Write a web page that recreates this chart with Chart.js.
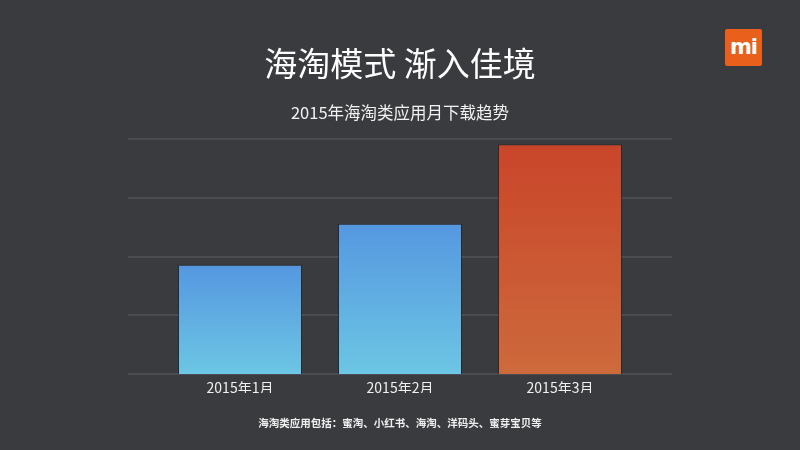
<!DOCTYPE html>
<html><head><meta charset="utf-8">
<script src="https://cdn.jsdelivr.net/npm/chart.js@4/dist/chart.umd.min.js"></script>
<style>
html,body{margin:0;padding:0;background:#3a3b3f;}
#wrap{position:relative;width:800px;height:450px;overflow:hidden;background:#3a3b3f;font-family:"Noto Sans CJK SC","Noto Sans",sans-serif;}
canvas{position:absolute;left:0;top:0;}
.t{position:absolute;left:0;width:800px;text-align:center;color:#fff;white-space:nowrap;}
#title{top:40px;font-size:33px;line-height:44px;font-weight:400;}
#sub{top:100px;font-size:16.5px;line-height:24px;color:#f2f2f2;}
#foot{top:415px;font-size:10.5px;line-height:16px;font-weight:700;color:#eeeeee;}
#logo{position:absolute;left:725px;top:29px;width:37px;height:37px;background:#e8601c;border-radius:2px;color:#fff;font-family:"DejaVu Sans",sans-serif;font-weight:700;font-size:21px;line-height:37px;text-align:center;letter-spacing:-1px;}
</style></head>
<body><div id="wrap">
<canvas id="c" width="800" height="450"></canvas>
<div id="title" class="t">海淘模式 渐入佳境</div>
<div id="sub" class="t">2015年海淘类应用月下载趋势</div>
<div id="foot" class="t">海淘类应用包括：蜜淘、小红书、海淘、洋码头、蜜芽宝贝等</div>
<div id="logo">mi</div>
</div>
<script>
const categories = ['2015年1月', '2015年2月', '2015年3月'];
const downloads = [1.86, 2.56, 3.91];
const yMax = 4;
const yStep = 1;

const gradTop = ['#5597e0', '#5597e0', '#c9452a'];
const gradBottom = ['#6cc6e4', '#6cc6e4', '#cd6a3c'];

function barColor(ctx) {
  const chart = ctx.chart;
  const ys = chart.scales.y;
  if (!ys || ctx.type !== 'data') return gradTop[ctx.dataIndex];
  const v = ctx.raw;
  const top = ys.getPixelForValue(v);
  const bottom = ys.getPixelForValue(0);
  if (!isFinite(top) || !isFinite(bottom) || top === bottom) return gradTop[ctx.dataIndex];
  const g = chart.ctx.createLinearGradient(0, top, 0, bottom);
  g.addColorStop(0, gradTop[ctx.dataIndex]);
  g.addColorStop(1, gradBottom[ctx.dataIndex]);
  return g;
}

const wideGrid = {
  id: 'wideGrid',
  beforeDatasetsDraw(chart) {
    const ys = chart.scales.y;
    const c = chart.ctx;
    c.save();
    c.strokeStyle = '#4b4c51';
    c.lineWidth = 2;
    ys.ticks.forEach(t => {
      const y = Math.round(ys.getPixelForValue(t.value));
      c.beginPath();
      c.moveTo(128, y);
      c.lineTo(672, y);
      c.stroke();
    });
    c.restore();
  }
};

new Chart(document.getElementById('c'), {
  type: 'bar',
  data: {
    labels: categories,
    datasets: [{
      data: downloads,
      backgroundColor: barColor,
      borderColor: 'rgba(30,30,30,0.6)',
      borderWidth: 1,
      categoryPercentage: 1,
      barPercentage: 0.775
    }]
  },
  options: {
    responsive: false,
    animation: false,
    layout: { padding: { left: 160, right: 160, top: 139, bottom: 57 } },
    plugins: { legend: { display: false }, title: { display: false }, tooltip: { enabled: false } },
    scales: {
      x: {
        grid: { display: false },
        border: { display: false },
        ticks: { color: '#f0f0f0', font: { size: 14, family: '"Noto Sans CJK SC", "Liberation Sans", sans-serif' }, padding: -3, maxRotation: 0 }
      },
      y: {
        display: false,
        min: 0, max: yMax,
        ticks: { stepSize: yStep }
      }
    }
  },
  plugins: [wideGrid]
});
</script>
</body></html>
